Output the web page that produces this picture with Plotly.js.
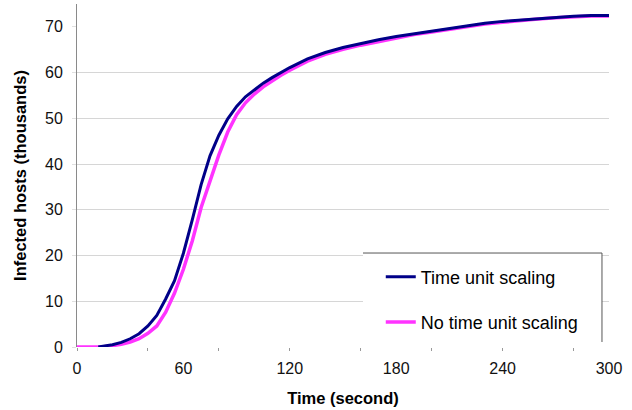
<!DOCTYPE html>
<html>
<head>
<meta charset="utf-8">
<script src="https://cdn.plot.ly/plotly-3.0.1.min.js"></script>
<style>html,body{margin:0;padding:0;background:#fff;}#chart{width:632px;height:410px;}</style>
</head>
<body>
<div id="chart"></div>
<script>
// Time (second)
const timeScaledT = [12, 15, 20, 25, 30, 35, 40, 45, 50, 55, 60, 65, 70, 75, 80, 85, 90, 95, 100, 105, 110, 115, 120, 130, 140, 150, 160, 170, 180, 190, 200, 210, 220, 230, 240, 250, 260, 270, 280, 290, 300];
// Infected hosts (thousands), "Time unit scaling"
const timeScaledV = [0, 0.2, 0.5, 1.0, 1.8, 2.9, 4.6, 6.9, 10.5, 14.5, 20.5, 27.8, 35.5, 41.8, 46.3, 49.9, 52.6, 54.7, 56.3, 57.7, 58.9, 60.0, 61.1, 63.0, 64.4, 65.5, 66.4, 67.2, 67.9, 68.5, 69.1, 69.7, 70.3, 70.8, 71.2, 71.5, 71.8, 72.1, 72.3, 72.5, 72.5];
const noScaleT = [0, 10, 15, 20, 25, 30, 35, 40, 45, 50, 55, 60, 65, 70, 75, 80, 85, 90, 95, 100, 105, 110, 115, 120, 130, 140, 150, 160, 170, 180, 190, 200, 210, 220, 230, 240, 250, 260, 270, 280, 290, 300];
// Infected hosts (thousands), "No time unit scaling"
const noScaleV = [0, 0, 0.05, 0.3, 0.6, 1.1, 1.8, 3.0, 4.6, 7.6, 11.8, 17.0, 23.2, 30.5, 36.5, 42.0, 47.0, 50.8, 53.4, 55.3, 56.9, 58.2, 59.4, 60.5, 62.5, 64.0, 65.1, 66.0, 66.8, 67.6, 68.3, 68.9, 69.5, 70.1, 70.6, 71.0, 71.4, 71.7, 72.0, 72.2, 72.4, 72.4];
const seriesNames = ["Time unit scaling", "No time unit scaling"];
const xTickVals = [0, 60, 120, 180, 240, 300];
const yTickVals = [0, 10, 20, 30, 40, 50, 60, 70];
const yGridVals = [10, 20, 30, 40, 50, 60];

const FONT = "Liberation Sans, Arial, sans-serif";

const traces = [
  {x: noScaleT, y: noScaleV, name: seriesNames[1], type: "scatter", mode: "lines",
   line: {color: "#ff33ff", width: 3.5}, legendgroup: "b", legendrank: 2},
  {x: timeScaledT, y: timeScaledV, name: seriesNames[0], type: "scatter", mode: "lines",
   line: {color: "#000088", width: 3}, legendgroup: "a", legendrank: 1},
  // invisible trace carrying the gridline axis
  {x: [0], y: [0], yaxis: "y2", mode: "lines", showlegend: false, hoverinfo: "skip",
   line: {width: 0}, opacity: 0}
];

const layout = {
  width: 632, height: 410,
  margin: {l: 77, r: 23, t: 4, b: 63},
  paper_bgcolor: "#fff", plot_bgcolor: "rgba(0,0,0,0)",
  font: {family: FONT, size: 16, color: "#111"},
  showlegend: true,
  xaxis: {
    range: [0, 300], tickvals: xTickVals, ticks: "", showgrid: false,
    zeroline: false, showline: false,
    ticklabelstandoff: 10,
    tickfont: {size: 16, color: "#111"},
    minor: {dtick: 40, tick0: 0, ticks: "outside", ticklen: 3, tickcolor: "#999", showgrid: false},
    title: {text: "<b>Time (second)</b>", font: {size: 16.5, color: "#000"}, standoff: 16}
  },
  yaxis: {
    range: [0, 75], tickvals: yTickVals, showgrid: false, zeroline: false,
    showline: true, linecolor: "#8a8a8a", linewidth: 1,
    ticks: "outside", ticklen: 4, tickcolor: "#e0e0e0",
    ticklabelstandoff: 6,
    tickfont: {size: 16, color: "#111"},
    title: {text: "<b>Infected hosts (thousands)</b>", font: {size: 16.5, color: "#000"}, standoff: 14}
  },
  yaxis2: {
    overlaying: "y", range: [0, 75], tickvals: yGridVals, showticklabels: false,
    showgrid: true, gridcolor: "#d6d6d6", gridwidth: 1, zeroline: false, showline: false,
    ticks: ""
  },
  legend: {
    x: 0.571, xanchor: "left", y: 0.258, yanchor: "top",
    bgcolor: "rgba(0,0,0,0)", borderwidth: 0,
    font: {size: 18, color: "#000", family: FONT},
    traceorder: "grouped", tracegroupgap: 19, itemwidth: 30
  },
  shapes: [
    {type: "rect", xref: "paper", yref: "paper", x0: 0.5376, x1: 0.9868, y0: 0.0146, y1: 0.274,
     fillcolor: "#fff", line: {width: 0}, layer: "above"},
    {type: "line", xref: "paper", yref: "paper", x0: 0.5376, x1: 0.9868, y0: 0.274, y1: 0.274,
     line: {color: "#555", width: 1}, layer: "above"},
    {type: "line", xref: "paper", yref: "paper", x0: 0.9868, x1: 0.9868, y0: 0.274, y1: 0.0146,
     line: {color: "#555", width: 1}, layer: "above"}
  ]
};

Plotly.newPlot("chart", traces, layout, {staticPlot: true, displayModeBar: false});
</script>
</body>
</html>
